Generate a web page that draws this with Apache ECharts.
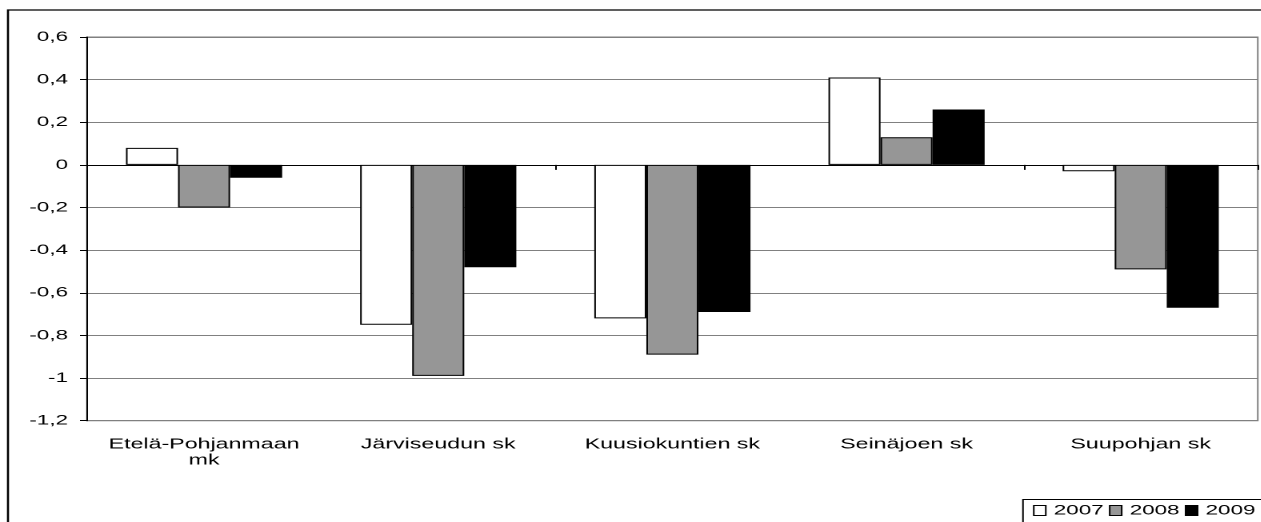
<!DOCTYPE html>
<html><head><meta charset="utf-8">
<script src="https://cdn.jsdelivr.net/npm/echarts@6/dist/echarts.min.js"></script>
<style>
html,body{margin:0;padding:0;background:#fff;overflow:hidden;}
#wrap{width:1261px;height:522px;overflow:hidden;position:relative;background:#fff;}
#chart{position:absolute;left:0;top:0;width:788.125px;height:522px;transform:scaleX(1.6);transform-origin:0 0;}
</style></head>
<body><div id="wrap"><div id="chart"></div></div>
<script>
const categories = ['Etelä-Pohjanmaan mk', 'Järviseudun sk', 'Kuusiokuntien sk', 'Seinäjoen sk', 'Suupohjan sk'];
const seriesNames = ['2007', '2008', '2009'];
const v2007 = [0.08, -0.75, -0.72, 0.41, -0.03];
const v2008 = [-0.20, -0.99, -0.89, 0.13, -0.49];
const v2009 = [-0.06, -0.48, -0.69, 0.26, -0.67];
const yMin = -1.2, yMax = 0.6, yStep = 0.2;

const S = 1.6;                // horizontal stretch of the reference
const X = px => px / S;       // final px -> unscaled px
const FONT = '"Liberation Sans", Arial, sans-serif';

const chart = echarts.init(document.getElementById('chart'), null, {devicePixelRatio: 2});
const colors = ['#ffffff', '#969696', '#000000'];
const values = [v2007, v2008, v2009];

chart.setOption({
  animation: false,
  backgroundColor: '#ffffff',
  textStyle: {fontFamily: FONT},
  grid: {left: X(87), right: X(3), top: 37, bottom: 101.3, show: true,
         borderColor: '#808080', borderWidth: 1, backgroundColor: 'transparent'},
  legend: {
    data: seriesNames, left: X(1023), top: 499.5, width: 400, orient: 'horizontal',
    padding: [4, 40, 12, X(10)], itemGap: 3.3, itemWidth: X(12), itemHeight: 10,
    borderColor: '#000', borderWidth: 1, icon: 'rect',
    itemStyle: {borderColor: '#000', borderWidth: 1},
    textStyle: {fontSize: 14, color: '#000', fontFamily: FONT}
  },
  xAxis: [{
    type: 'category', data: categories, position: 'bottom',
    axisLine: {onZero: true, lineStyle: {color: '#000', width: 1}},
    axisTick: {show: true, length: 5, lineStyle: {color: '#000', width: 1}},
    axisLabel: {show: false}, splitLine: {show: false}
  }, {
    type: 'category', data: categories, position: 'bottom',
    axisLine: {show: false, onZero: false}, axisTick: {show: false},
    splitLine: {show: false},
    axisLabel: {show: true, interval: 0, fontSize: 14.5, color: '#000', margin: 16, lineHeight: 16,
      fontFamily: FONT, formatter: v => v.replace(' mk', '\nmk')}
  }],
  yAxis: {
    type: 'value', min: yMin, max: yMax, interval: yStep,
    axisLine: {show: true, lineStyle: {color: '#000', width: 1}},
    axisTick: {show: true, length: X(7), lineStyle: {color: '#000', width: 1}},
    splitLine: {show: true, lineStyle: {color: '#808080', width: 1}},
    axisLabel: {fontSize: 14, color: '#000', margin: X(19), fontFamily: FONT,
      formatter: v => String(Math.round(v * 10) / 10).replace('.', ',')}
  },
  graphic: [{
    type: 'rect', silent: true, z: 100,
    shape: {x: X(8), y: 10, width: 2000, height: 2000},
    style: {fill: 'none', stroke: '#000', lineWidth: 1.3}
  }],
  series: seriesNames.map((n, i) => ({
    name: n, type: 'bar', xAxisIndex: 0, data: values[i],
    barCategoryGap: '33.3%', barGap: '0%',
    itemStyle: {color: colors[i], borderColor: '#000', borderWidth: 1}
  }))
});
</script>
</body></html>
